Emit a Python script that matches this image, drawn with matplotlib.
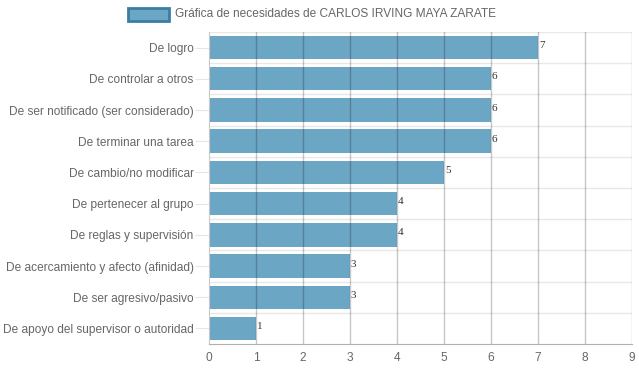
import matplotlib
matplotlib.use("agg")
from matplotlib import pyplot as plt
from matplotlib.patches import Rectangle

categorias = [
    "De logro",
    "De controlar a otros",
    "De ser notificado (ser considerado)",
    "De terminar una tarea",
    "De cambio/no modificar",
    "De pertenecer al grupo",
    "De reglas y supervisión",
    "De acercamiento y afecto (afinidad)",
    "De ser agresivo/pasivo",
    "De apoyo del supervisor o autoridad",
]
valores = [7, 6, 6, 6, 5, 4, 4, 3, 3, 1]
ticks_x = list(range(0, 10))
titulo = "Gráfica de necesidades de CARLOS IRVING MAYA ZARATE"

color_barra = "#6ca6c5"
color_borde = "#3a7ea6"

plt.rcParams["font.family"] = ["Liberation Sans", "DejaVu Sans"]

fig = plt.figure(figsize=(6.39, 3.72), dpi=100)
ax = fig.add_axes([209 / 639, 1 - 344 / 372, 423 / 639, 312 / 372])

pos = list(range(len(categorias)))
ax.barh(pos, valores, height=0.75, color=color_barra, zorder=1)
for p, v in zip(pos, valores):
    ax.text(v + 0.02, p - 0.06, str(v), fontsize=8, family="Liberation Serif",
            color="#333333", va="center", ha="left", zorder=3)

ax.set_xlim(0, 9)
ax.set_ylim(len(categorias) - 0.5, -0.5)
ax.set_xticks(ticks_x)
ax.set_yticks(pos)
ax.set_yticklabels(categorias)
ax.tick_params(axis="y", length=10, color="#e6e6e6", pad=1, labelsize=8.6, labelcolor="#666666")
ax.tick_params(axis="x", length=0, pad=6, labelsize=8.6, labelcolor="#666666")

# separadores entre categorias
for b in [i + 0.5 for i in pos[:-1]] + [-0.5]:
    ax.axhline(b, color="#e8e8e8", lw=1, zorder=0)
for t in ticks_x[1:]:
    ax.axvline(t, color="#000000", alpha=0.22, lw=1, zorder=2)

for s in ["top", "right"]:
    ax.spines[s].set_visible(False)
ax.spines["left"].set_color("#c8c8c8")
ax.spines["bottom"].set_color("#b0b0b0")
ax.spines["left"].set_zorder(2)

# leyenda
fig.patches.append(Rectangle((128 / 639, 1 - 21 / 372), 41 / 639, 13 / 372,
                             transform=fig.transFigure, facecolor=color_barra,
                             edgecolor=color_borde, lw=2))
fig.text(175 / 639, 1 - 14 / 372, titulo, fontsize=8.6, color="#666666", va="center")

fig.savefig("out.png", dpi=100)
